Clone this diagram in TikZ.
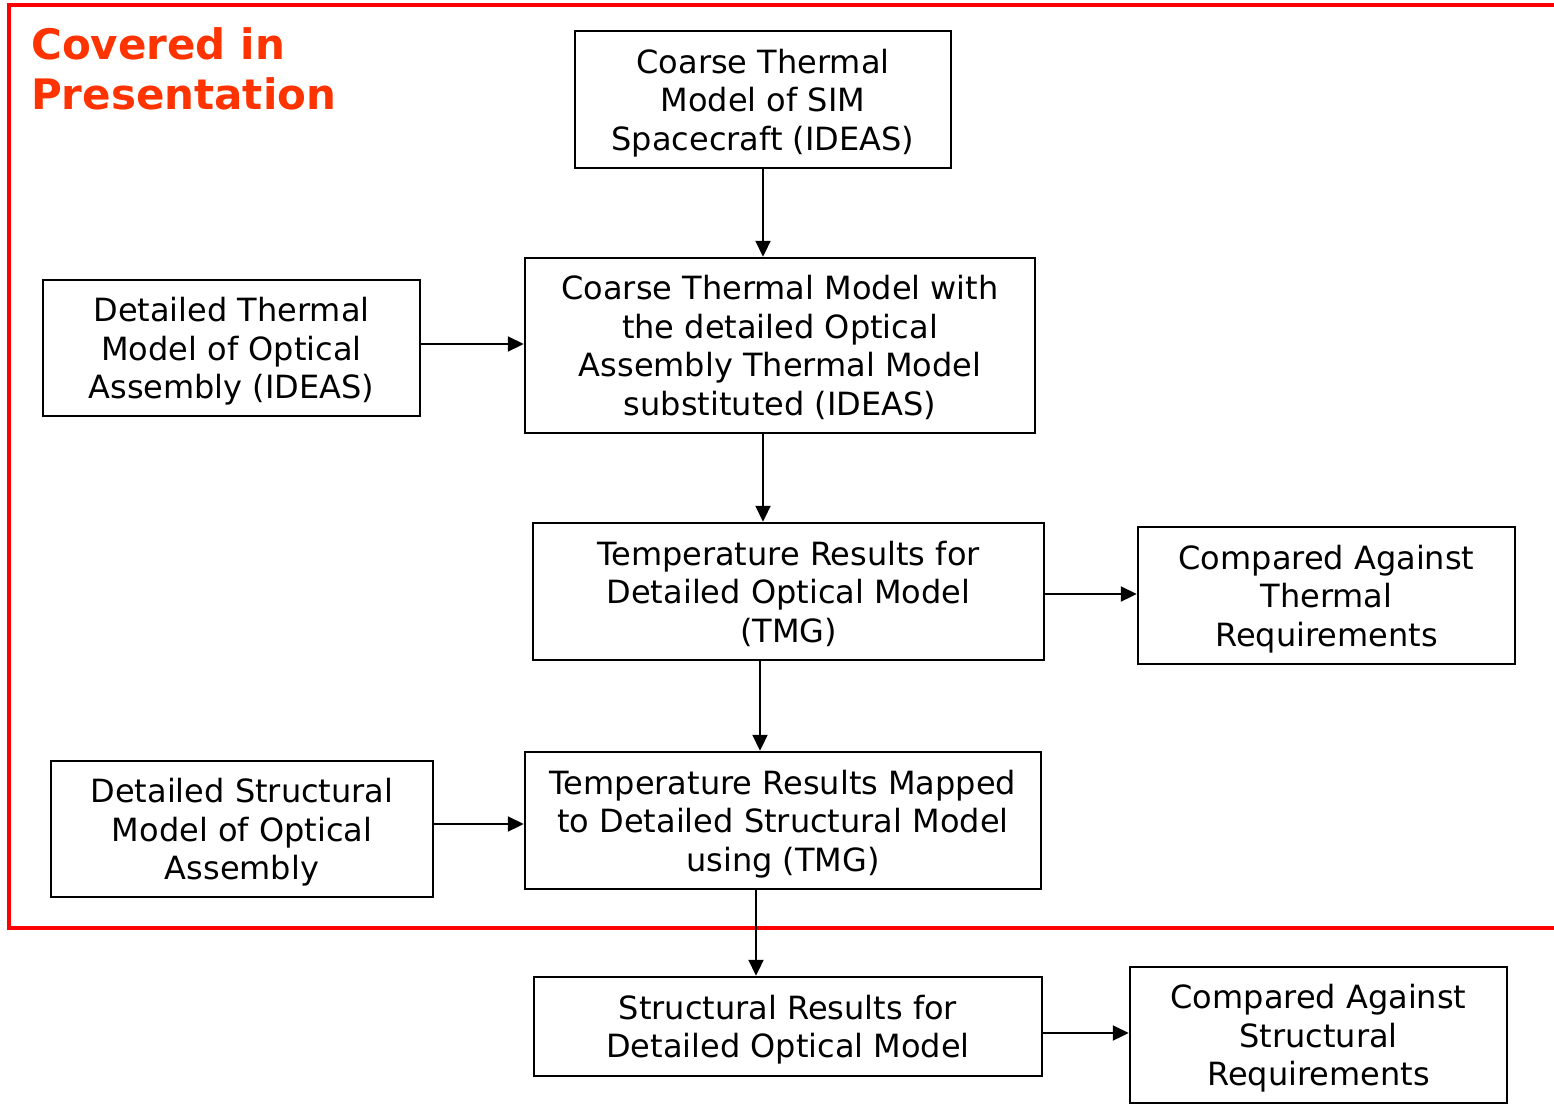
\documentclass[tikz,border=0pt]{standalone}
\usepackage{fontspec}
\setmainfont{DejaVu Sans}
\usetikzlibrary{arrows.meta}
\definecolor{titlered}{RGB}{255,51,0}
\definecolor{framered}{RGB}{255,0,0}
\begin{document}
\begin{tikzpicture}[x=1pt,y=-1pt,
  box/.style={draw=black,line width=2.5pt,inner sep=0pt,align=center,
    font=\fontsize{32}{38.5}\selectfont,text depth=-4pt},
  arr/.style={line width=2.2pt,-{Triangle[length=16pt,width=15pt]}},
  frame/.style={draw=framered,line width=3.5pt}]
\clip (0,0) rectangle (1554,1103);
\fill[white] (0,0) rectangle (1554,1103);
% red frame
\draw[frame] (1570,5) -- (9,5) -- (9,928) -- (1570,928);
\node[anchor=north west,inner sep=0pt,align=left,text=titlered,
  font=\bfseries\fontsize{42}{50}\selectfont] (title) at (31,27)
  {Covered in\\Presentation};
% boxes
\node[box,minimum width=376pt,minimum height=137pt] (n1) at (763,99.5)
  {Coarse Thermal\\Model of SIM\\Spacecraft (IDEAS)};
\node[box,minimum width=510pt,minimum height=175pt] (n2) at (780,345.5)
  {Coarse Thermal Model with\\the detailed Optical\\Assembly Thermal Model\\substituted (IDEAS)};
\node[box,minimum width=377pt,minimum height=136pt] (n3) at (231.5,348)
  {Detailed Thermal\\Model of Optical\\Assembly (IDEAS)};
\node[box,minimum width=511pt,minimum height=137pt] (n4) at (788.5,591.5)
  {Temperature Results for\\Detailed Optical Model\\(TMG)};
\node[box,minimum width=377pt,minimum height=137pt] (n5) at (1326.5,595.5)
  {Compared Against\\Thermal\\Requirements};
\node[box,minimum width=516pt,minimum height=137pt] (n6) at (783,820.5)
  {Temperature Results Mapped\\to Detailed Structural Model\\using (TMG)};
\node[box,minimum width=382pt,minimum height=136pt] (n7) at (242,829)
  {Detailed Structural\\Model of Optical\\Assembly};
\node[box,minimum width=508pt,minimum height=99pt] (n8) at (788,1026.5)
  {Structural Results for\\Detailed Optical Model};
\node[box,minimum width=377pt,minimum height=136pt] (n9) at (1318.5,1035)
  {Compared Against\\Structural\\Requirements};
% guide coordinates
\coordinate (xa) at (763,0);
\coordinate (xb) at (760,0);
\coordinate (xc) at (756,0);
\coordinate (ya) at (0,344);
\coordinate (yb) at (0,594);
\coordinate (yc) at (0,824);
\coordinate (yd) at (0,1033);
% connectors
\draw[arr] (n1.south -| xa) -- (n2.north -| xa);
\draw[arr] (n3.east |- ya) -- (n2.west |- ya);
\draw[arr] (n2.south -| xa) -- (n4.north -| xa);
\draw[arr] (n4.east |- yb) -- (n5.west |- yb);
\draw[arr] (n4.south -| xb) -- (n6.north -| xb);
\draw[arr] (n7.east |- yc) -- (n6.west |- yc);
\draw[arr] (n6.south -| xc) -- (n8.north -| xc);
\draw[arr] (n8.east |- yd) -- (n9.west |- yd);
\end{tikzpicture}
\end{document}
